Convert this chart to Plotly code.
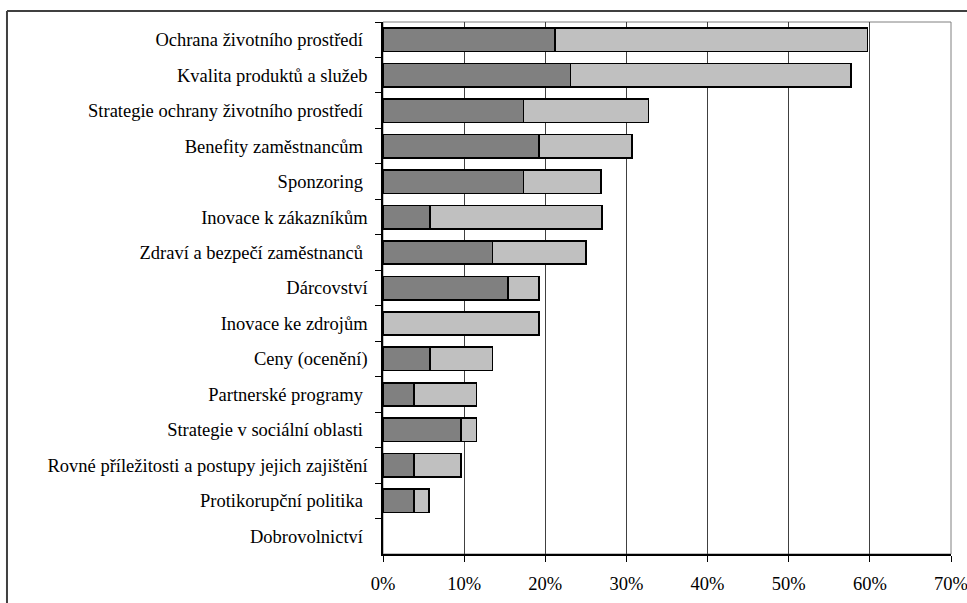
import plotly.graph_objects as go

# Oblasti společenské odpovědnosti (pořadí shora dolů)
categories = [
    "Ochrana životního prostředí\u00a0",
    "Kvalita produktů a služeb",
    "Strategie ochrany životního prostředí\u00a0",
    "Benefity zaměstnancům\u00a0",
    "Sponzoring\u00a0",
    "Inovace k zákazníkům",
    "Zdraví a bezpečí zaměstnanců\u00a0",
    "Dárcovství",
    "Inovace ke zdrojům",
    "Ceny (ocenění)",
    "Partnerské programy\u00a0",
    "Strategie v sociální oblasti\u00a0",
    "Rovné příležitosti a postupy jejich zajištění",
    "Protikorupční politika\u00a0",
    "Dobrovolnictví\u00a0",
]

# Podíl v % – tmavá a světlá část sloupce
dark_values = [21.2, 23.1, 17.3, 19.2, 17.3, 5.8, 13.5, 15.4, 0.0, 5.8, 3.8, 9.6, 3.8, 3.8, 0.0]
light_values = [38.5, 34.6, 15.4, 11.5, 9.6, 21.2, 11.5, 3.8, 19.2, 7.7, 7.7, 1.9, 5.8, 1.9, 0.0]

x_ticks = [0, 10, 20, 30, 40, 50, 60, 70]
x_tick_labels = ["0%", "10%", "20%", "30%", "40%", "50%", "60%", "70%"]

FONT = "Liberation Serif"


def outline_widths(values):
    # nulové segmenty se nekreslí ani obrysem
    return [1.6 if v > 0 else 0 for v in values]


fig = go.Figure()
fig.add_trace(go.Bar(
    y=categories, x=dark_values, orientation="h",
    marker=dict(color="#808080", line=dict(color="#000000", width=outline_widths(dark_values))),
    showlegend=False, hoverinfo="x+y",
))
fig.add_trace(go.Bar(
    y=categories, x=light_values, orientation="h",
    marker=dict(color="#c0c0c0", line=dict(color="#000000", width=outline_widths(light_values))),
    showlegend=False, hoverinfo="x+y",
))

fig.update_layout(
    barmode="stack",
    bargap=0.34,
    width=967, height=603,
    margin=dict(l=383, r=16, t=22, b=49, autoexpand=False),
    paper_bgcolor="white",
    plot_bgcolor="white",
    font=dict(family=FONT, size=18.5, color="#000000"),
    xaxis=dict(
        range=[0, 70],
        tickvals=x_ticks,
        ticktext=x_tick_labels,
        showgrid=True, gridcolor="#404040", gridwidth=1,
        zeroline=False,
        showline=True, linecolor="#000000", linewidth=1.5,
        ticks="outside", ticklen=6, tickcolor="#000000", tickwidth=1,
        ticklabelstandoff=6,
        ticklabeloverflow="allow",
        automargin=False,
        fixedrange=True,
    ),
    yaxis=dict(
        categoryorder="array",
        categoryarray=categories,
        autorange="reversed",
        showgrid=False,
        zeroline=False,
        showline=True, linecolor="#000000", linewidth=1.5,
        ticks="outside", ticklen=6, tickcolor="#000000", tickwidth=1,
        tickson="boundaries",
        ticklabelstandoff=10,
        automargin=False,
        fixedrange=True,
    ),
    shapes=[
        # rámeček oblasti grafu
        dict(type="rect", xref="paper", yref="paper", x0=0, x1=1, y0=0, y1=1,
             line=dict(color="#808080", width=1), layer="below"),
        # vnější rámeček celého grafu
        dict(type="line", xref="paper", yref="paper",
             x0=-0.662, x1=-0.662, y0=1.0207, y1=-0.12,
             line=dict(color="#404040", width=2)),
        dict(type="line", xref="paper", yref="paper",
             x0=-0.662, x1=1.05, y0=1.0207, y1=1.0207,
             line=dict(color="#404040", width=2)),
    ],
)

fig.write_html("out.html")
